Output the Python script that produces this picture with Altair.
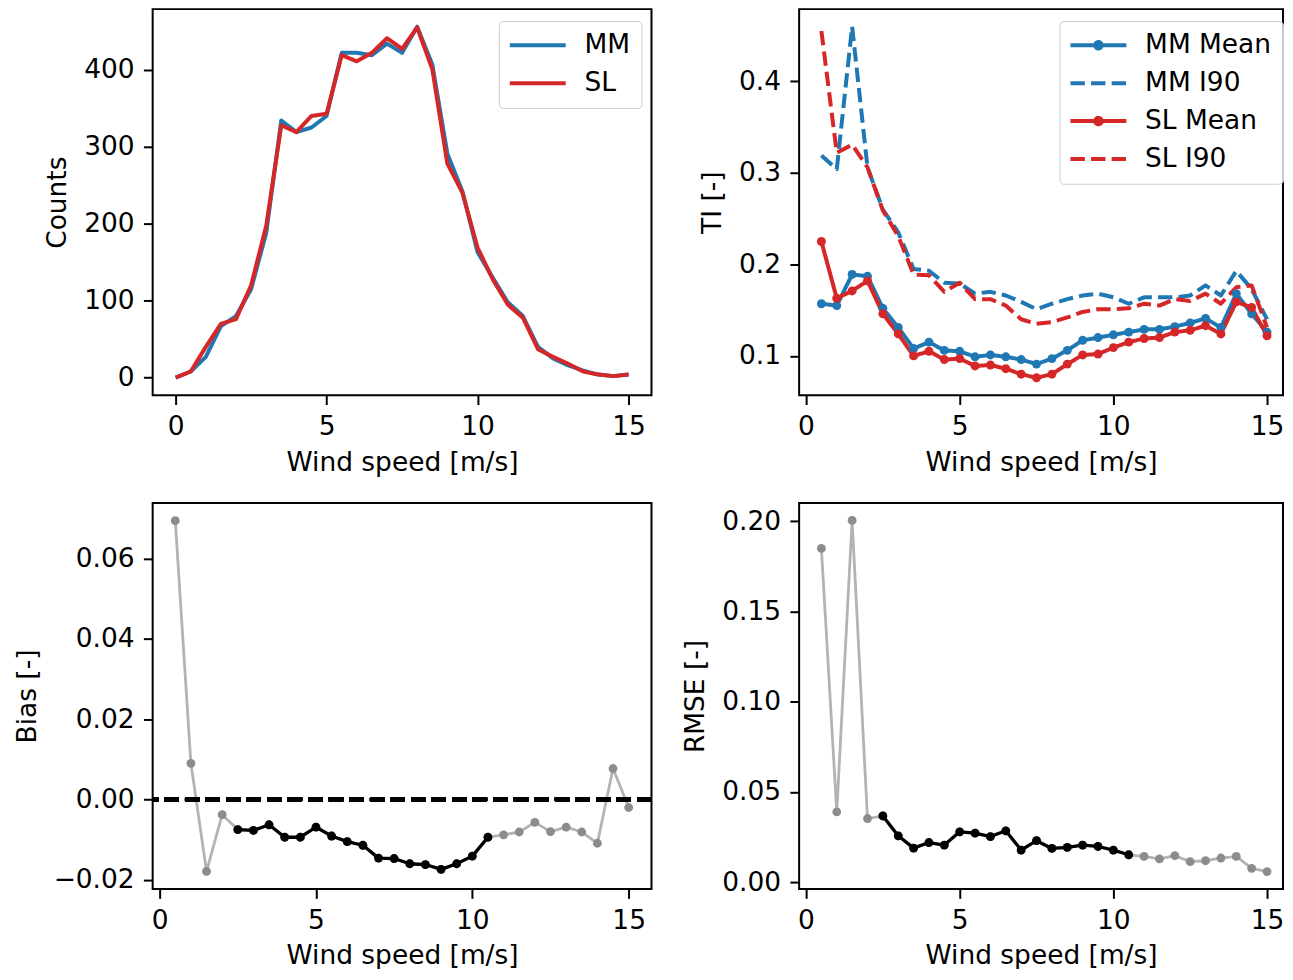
import altair as alt
import pandas as pd

FONT = "DejaVu Sans"
FS = 26.5
BLUE = "#1f77b4"
RED = "#d62728"

# ---------------- data ----------------
count_ws = [0.0, 0.5, 1.0, 1.5, 2.0, 2.5, 3.0, 3.5, 4.0, 4.5, 5.0, 5.5, 6.0, 6.5, 7.0, 7.5,
            8.0, 8.5, 9.0, 9.5, 10.0, 10.5, 11.0, 11.5, 12.0, 12.5, 13.0, 13.5, 14.0, 14.5, 15.0]
counts_mm = [0, 8, 27, 67, 80, 115, 188, 334, 319, 325, 340, 422, 422, 419, 434, 422,
             456, 407, 291, 242, 163, 130, 98, 80, 40, 25, 16, 9, 4, 2, 4]
counts_sl = [0, 8, 40, 70, 76, 120, 197, 328, 319, 340, 343, 419, 411, 422, 441, 427,
             455, 401, 278, 240, 169, 128, 95, 78, 37, 27, 18, 8, 4, 2, 4]

ws = [0.5, 1.0, 1.5, 2.0, 2.5, 3.0, 3.5, 4.0, 4.5, 5.0, 5.5, 6.0, 6.5, 7.0, 7.5,
      8.0, 8.5, 9.0, 9.5, 10.0, 10.5, 11.0, 11.5, 12.0, 12.5, 13.0, 13.5, 14.0, 14.5, 15.0]
ti_mm_mean = [0.157, 0.155, 0.189, 0.187, 0.152, 0.131, 0.108, 0.115, 0.106, 0.105,
              0.099, 0.101, 0.099, 0.096, 0.091, 0.097, 0.106, 0.117, 0.120, 0.123,
              0.126, 0.129, 0.129, 0.132, 0.136, 0.141, 0.131, 0.168, 0.146, 0.126]
ti_mm_i90 = [0.319, 0.304, 0.460, 0.306, 0.260, 0.235, 0.195, 0.193, 0.180, 0.179,
             0.168, 0.170, 0.166, 0.159, 0.151, 0.157, 0.162, 0.166, 0.168, 0.164,
             0.157, 0.164, 0.164, 0.164, 0.166, 0.177, 0.166, 0.193, 0.173, 0.140]
ti_sl_mean = [0.225, 0.163, 0.171, 0.182, 0.146, 0.124, 0.100, 0.105, 0.096, 0.097,
              0.089, 0.090, 0.086, 0.080, 0.076, 0.080, 0.091, 0.101, 0.102, 0.109,
              0.115, 0.119, 0.120, 0.126, 0.128, 0.133, 0.124, 0.159, 0.153, 0.122]
ti_sl_i90 = [0.455, 0.322, 0.331, 0.306, 0.259, 0.231, 0.189, 0.188, 0.170, 0.180,
             0.162, 0.162, 0.155, 0.140, 0.135, 0.137, 0.142, 0.148, 0.151, 0.151,
             0.152, 0.157, 0.155, 0.162, 0.160, 0.168, 0.157, 0.175, 0.177, 0.131]
bias = [0.0694, 0.0090, -0.0179, -0.0038, -0.0075, -0.0077, -0.0063, -0.0094, -0.0094, -0.0069,
        -0.0091, -0.0105, -0.0114, -0.0146, -0.0147, -0.0160, -0.0162, -0.0174, -0.0160, -0.0141,
        -0.0094, -0.0088, -0.0081, -0.0057, -0.0080, -0.0069, -0.0081, -0.0109, 0.0077, -0.0020]
rmse = [0.185, 0.039, 0.2005, 0.0353, 0.0367, 0.0257, 0.0189, 0.0220, 0.0206, 0.0279,
        0.0272, 0.0253, 0.0285, 0.0178, 0.0230, 0.0187, 0.0193, 0.0206, 0.0198, 0.0178,
        0.0152, 0.0143, 0.0129, 0.0147, 0.0114, 0.0119, 0.0134, 0.0143, 0.0077, 0.0059]

count_series = ["MM", "SL"]
ti_series = ["MM Mean", "MM I90", "SL Mean", "SL I90"]
x_ticks = [0, 5, 10, 15]
count_ticks = [0, 100, 200, 300, 400]
ti_ticks = [0.1, 0.2, 0.3, 0.4]
bias_ticks = [-0.02, 0.0, 0.02, 0.04, 0.06]
rmse_ticks = [0.0, 0.05, 0.10, 0.15, 0.20]
good_range = [2.5, 10.5]

# ---------------- frames ----------------
counts_df = pd.DataFrame({
    "ws": count_ws * 2,
    "count": counts_mm + counts_sl,
    "series": ["MM"] * len(count_ws) + ["SL"] * len(count_ws),
})
ti_df = pd.DataFrame({
    "ws": ws * 4,
    "ti": ti_mm_mean + ti_mm_i90 + ti_sl_mean + ti_sl_i90,
    "series": sum([[s] * len(ws) for s in ti_series], []),
})
bias_df = pd.DataFrame({"ws": ws, "v": bias})
rmse_df = pd.DataFrame({"ws": ws, "v": rmse})

W_L, W_R, H = 500, 485, 387
XDOM_R = [-0.224, 15.52]
LINE_PATH = "M-5.6,0L5.6,0"
DOT_PATH = "M-5.6,0L5.6,0M0.65,0A0.65,0.65,0,1,1,-0.65,0A0.65,0.65,0,1,1,0.65,0Z"
DASH = [14.4, 6.2]

def xaxis():
    return alt.Axis(values=x_ticks, title="Wind speed [m/s]", labelFlush=False)

def legend(x, y, symtype=None):
    kw = dict(title=None, orient="none", legendX=x, legendY=y, symbolSize=100,
              symbolStrokeWidth=4, symbolOffset=14.75, labelOffset=33.5, rowPadding=11,
              padding=11, fillColor="rgba(255,255,255,0.8)", strokeColor="#cccccc",
              cornerRadius=4, labelFont=FONT, labelFontSize=FS, labelColor="black",
              labelLimit=400)
    if symtype:
        kw["symbolType"] = symtype
    return alt.Legend(**kw)

# ---- panel 1: counts ----
p1 = alt.Chart(counts_df).mark_line(strokeWidth=4, strokeJoin="round").encode(
    x=alt.X("ws:Q", scale=alt.Scale(domain=[-0.76, 15.76], nice=False, zero=False), axis=xaxis()),
    y=alt.Y("count:Q", scale=alt.Scale(domain=[-22.8, 478.8], nice=False, zero=False),
            axis=alt.Axis(values=count_ticks, title="Counts")),
    color=alt.Color("series:N", scale=alt.Scale(domain=count_series, range=[BLUE, RED]),
                    legend=legend(347, 12, LINE_PATH)),
).properties(width=W_L, height=H)

# ---- panel 2: TI ----
ti_x = alt.X("ws:Q", scale=alt.Scale(domain=XDOM_R, nice=False, zero=False), axis=xaxis())
ti_y = alt.Y("ti:Q", scale=alt.Scale(domain=[0.057, 0.479], nice=False, zero=False),
             axis=alt.Axis(values=ti_ticks, format=".1f", title="TI [-]"))
ti_color = alt.Color("series:N", scale=alt.Scale(domain=ti_series, range=[BLUE, BLUE, RED, RED]),
                     legend=legend(261, 12))
ti_lines = alt.Chart(ti_df).mark_line(strokeWidth=4, strokeJoin="round").encode(
    x=ti_x, y=ti_y, color=ti_color,
    strokeDash=alt.StrokeDash("series:N",
                              scale=alt.Scale(domain=ti_series, range=[[1, 0], DASH, [1, 0], DASH]),
                              legend=legend(261, 12)),
)
ti_dots = alt.Chart(ti_df).transform_filter(
    "indexof(datum.series, 'Mean') >= 0"
).mark_circle(size=80, opacity=1).encode(x=ti_x, y=ti_y, color=ti_color)
ti_leg = alt.Chart(ti_df).transform_filter("false").mark_point(filled=True, opacity=1).encode(
    x=ti_x, y=ti_y, color=ti_color,
    shape=alt.Shape("series:N",
                    scale=alt.Scale(domain=ti_series, range=[DOT_PATH, LINE_PATH, DOT_PATH, LINE_PATH]),
                    legend=legend(261, 12)),
)
p2 = alt.layer(ti_lines, ti_dots, ti_leg).properties(width=W_R, height=H)

# ---- panel 3 / 4: bias and rmse ----
def err_panel(df, ydom, ticks, title, width, xdom, zero_line):
    bx = alt.X("ws:Q", scale=alt.Scale(domain=xdom, nice=False, zero=False), axis=xaxis())
    by = alt.Y("v:Q", scale=alt.Scale(domain=ydom, nice=False, zero=False),
               axis=alt.Axis(values=ticks, format=".2f", title=title))
    base = alt.Chart(df).encode(x=bx, y=by)
    sub = base.transform_filter(
        f"datum.ws >= {good_range[0]} && datum.ws <= {good_range[1]}")
    layers = [
        base.mark_line(color="#b3b3b3", strokeWidth=2.8, strokeJoin="round"),
        base.mark_circle(color="#8c8c8c", size=78, opacity=1),
        sub.mark_line(color="black", strokeWidth=3.3, strokeJoin="round"),
        sub.mark_circle(color="black", size=78, opacity=1),
    ]
    if zero_line:
        layers.append(alt.Chart(df).mark_rule(color="black", strokeWidth=3.8, strokeDash=DASH)
                      .encode(y=alt.datum(0)))
    return alt.layer(*layers).properties(width=width, height=H)

p3 = err_panel(bias_df, [-0.0223, 0.0738], bias_ticks, "Bias [-]", W_L, [-0.223, 15.73], True)
p4 = err_panel(rmse_df, [-0.0038, 0.2102], rmse_ticks, "RMSE [-]", W_R, XDOM_R, False)

chart = alt.concat(p1, p2, p3, p4, columns=2, spacing={"row": 25, "column": 27}).resolve_scale(
    color="independent", strokeDash="independent", shape="independent"
).resolve_legend(
    color="independent", strokeDash="independent", shape="independent"
).properties(
    padding={"left": 5, "top": -1, "right": 0, "bottom": -3}
).configure(font=FONT).configure_axis(
    labelFont=FONT, labelFontSize=FS, labelColor="black",
    titleFont=FONT, titleFontSize=FS, titleColor="black", titleFontWeight="normal",
    tickColor="black", tickSize=9.3, tickWidth=2, labelPadding=9.3,
    domain=False, grid=False,
).configure_axisX(titlePadding=9).configure_axisY(titlePadding=12).configure_view(
    stroke="black", strokeWidth=2
)

chart.save("out.html", embed_options={"renderer": "svg", "actions": False})
